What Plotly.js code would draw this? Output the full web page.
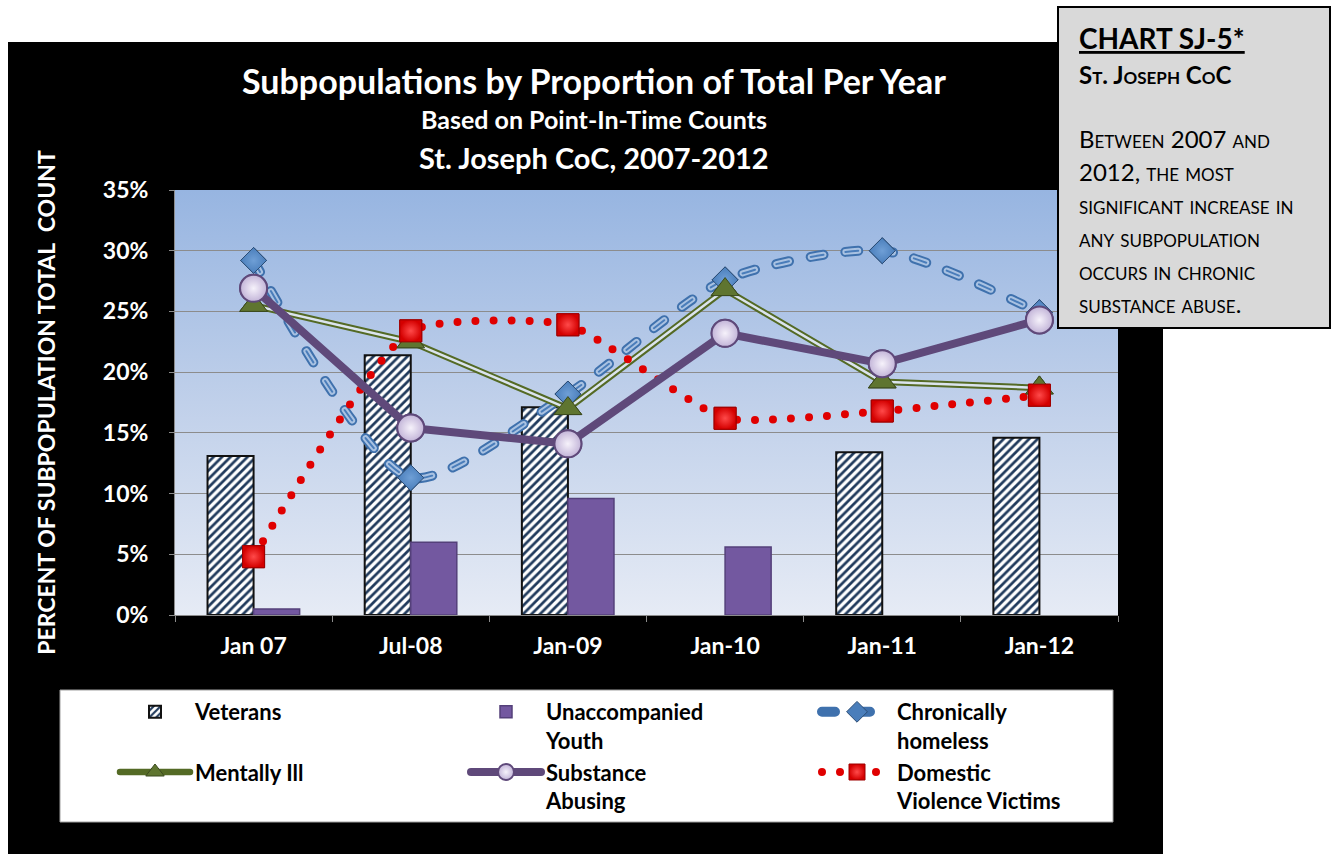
<!DOCTYPE html>
<html>
<head>
<meta charset="utf-8">
<script src="https://cdn.plot.ly/plotly-3.0.1.min.js"></script>
<style>
html,body{margin:0;padding:0;background:#fff;}
#wrap{position:relative;width:1336px;height:854px;overflow:hidden;}
#bgblack{position:absolute;left:8px;top:42px;width:1155px;height:812px;background:#000;}
#chart{position:absolute;left:0;top:0;width:1336px;height:854px;}
.js-line{stroke-linecap:round;stroke-linejoin:round;}
</style>
</head>
<body>
<div id="wrap"><div id="bgblack"></div><div id="chart"></div></div>
<script>
// ---- data ----
const categories = ['Jan 07', 'Jul-08', 'Jan-09', 'Jan-10', 'Jan-11', 'Jan-12'];
const veterans   = [13.1, 21.4, 17.1, null, 13.4, 14.6];
const youth      = [0.5, 6.0, 9.6, 5.6, null, null];
const chronic    = [29.2, 11.3, 18.2, 27.6, 30.0, 24.9];
const mental     = [25.5, 22.5, 17.0, 26.8, 19.2, 18.7];
const substance  = [26.9, 15.4, 14.1, 23.2, 20.7, 24.3];
const domestic   = [4.8, 23.4, 23.9, 16.2, 16.8, 18.1];
const seriesNames = ['Veterans', 'Unaccompanied<br>Youth', 'Chronically<br>homeless',
                     'Mentally Ill', 'Substance<br>Abusing', 'Domestic<br>Violence Victims'];
const titleText = 'Subpopulations by Proportion of Total Per Year';
const subtitle1 = 'Based on Point-In-Time Counts';
const subtitle2 = 'St. Joseph CoC, 2007-2012';
const yAxisTitle = 'PERCENT OF SUBPOPULATION TOTAL  COUNT';
const boxHeading = 'CHART SJ-5*';
const boxSub = 'St. Joseph CoC';
const boxLines = ['Between 2007 and', '2012, the most', 'significant increase in',
                  'any subpopulation', 'occurs in chronic', 'substance abuse.'];

// ---- geometry helpers (plot area in px) ----
const L = 175, R = 1118, T = 190, B = 615;
const px = v => (v - L) / (R - L);
const py = v => (B - v) / (B - T);

const FONT = 'Lato, "Open Sans", sans-serif';

const traces = [];
traces.push({
  type: 'bar', x: categories, y: veterans, name: seriesNames[0], legendrank: 1,
  marker: {color: '#ffffff', line: {color: '#111111', width: 2},
           pattern: {shape: '/', fgcolor: '#203a5c', bgcolor: '#ffffff', size: 6, solidity: 0.45}},
  hoverinfo: 'skip'
});
traces.push({
  type: 'bar', x: categories, y: youth, name: seriesNames[1], legendrank: 2,
  marker: {color: '#7358a0', line: {color: '#54407a', width: 1.5}},
  hoverinfo: 'skip'
});

const blueDash = '13px,22px';
traces.push({
  type: 'scatter', mode: 'lines+markers', x: categories, y: chronic, name: seriesNames[2], legendrank: 3,
  line: {color: '#3f71ad', width: 10, dash: blueDash, shape: 'spline', smoothing: 0.7},
  marker: {symbol: 'diamond', size: 20, color: '#4a7ebb', line: {color: '#2c4d75', width: 1}},
  hoverinfo: 'skip'
});
traces.push({
  type: 'scatter', mode: 'lines', x: categories, y: chronic, showlegend: false,
  line: {color: '#a9c2e2', width: 6, dash: blueDash, shape: 'spline', smoothing: 0.7}, hoverinfo: 'skip'
});
traces.push({
  type: 'scatter', mode: 'lines', x: categories, y: chronic, showlegend: false,
  line: {color: '#4a7dba', width: 2, dash: blueDash, shape: 'spline', smoothing: 0.7}, hoverinfo: 'skip'
});

traces.push({
  type: 'scatter', mode: 'lines+markers', x: categories, y: mental, name: seriesNames[3], legendrank: 4,
  line: {color: '#546a25', width: 6.5},
  marker: {symbol: 'triangle-up', size: 24, color: '#5f7530', line: {color: '#3b4a1e', width: 1}},
  hoverinfo: 'skip'
});
traces.push({
  type: 'scatter', mode: 'lines', x: categories, y: mental, showlegend: false,
  line: {color: '#dbe4ee', width: 2.5}, hoverinfo: 'skip'
});

traces.push({
  type: 'scatter', mode: 'lines+markers', x: categories, y: domestic, name: seriesNames[5], legendrank: 6,
  line: {color: '#e00000', width: 8, dash: '0px,18px', shape: 'spline', smoothing: 0.5},
  marker: {symbol: 'square', size: 22, color: '#d40000', line: {color: '#9e0000', width: 1},
           gradient: {type: 'radial', color: '#ff4a4a'}},
  hoverinfo: 'skip'
});

traces.push({
  type: 'scatter', mode: 'lines+markers', x: categories, y: substance, name: seriesNames[4], legendrank: 5,
  line: {color: '#5f497a', width: 8},
  marker: {symbol: 'circle', size: 27, color: '#c2b4d8', line: {color: '#5f497a', width: 2},
           gradient: {type: 'radial', color: '#f6f2fb'}},
  hoverinfo: 'skip'
});

traces.push({
  type: 'scatter', mode: 'markers', x: categories, y: chronic, showlegend: false, hoverinfo: 'skip',
  marker: {symbol: 'diamond', size: 20, color: '#4a7ebb', line: {color: '#2c4d75', width: 1},
           gradient: {type: 'radial', color: '#6f9fd6'}}
});
traces.push({
  type: 'scatter', mode: 'markers', x: categories, y: mental, showlegend: false, hoverinfo: 'skip',
  marker: {symbol: 'triangle-up', size: 24, color: '#5f7530', line: {color: '#3b4a1e', width: 1}}
});
traces.push({
  type: 'scatter', mode: 'markers', x: categories, y: domestic, showlegend: false, hoverinfo: 'skip',
  marker: {symbol: 'square', size: 22, color: '#d40000', line: {color: '#9e0000', width: 1},
           gradient: {type: 'radial', color: '#ff4a4a'}}
});
traces.push({
  type: 'scatter', mode: 'markers', x: categories, y: substance, showlegend: false, hoverinfo: 'skip',
  marker: {symbol: 'circle', size: 27, color: '#c2b4d8', line: {color: '#5f497a', width: 2},
           gradient: {type: 'radial', color: '#f6f2fb'}}
});

const gradSvg = "<svg xmlns='http://www.w3.org/2000/svg' width='10' height='100' viewBox='0 0 10 100' preserveAspectRatio='none'>" +
  "<defs><linearGradient id='g' x1='0' y1='0' x2='0' y2='1'>" +
  "<stop offset='0' stop-color='#97b5e1'/><stop offset='0.5' stop-color='#c0d0ea'/><stop offset='1' stop-color='#e6ebf5'/>" +
  "</linearGradient></defs><rect width='10' height='100' fill='url(#g)'/></svg>";

const annotations = [
  {text: '<b>' + titleText + '</b>', x: px(594), y: py(80), font: {size: 34, color: '#ffffff', family: FONT}},
  {text: '<b>' + subtitle1 + '</b>', x: px(594), y: py(119), font: {size: 25, color: '#ffffff', family: FONT}},
  {text: '<b>' + subtitle2 + '</b>', x: px(594), y: py(157), font: {size: 29, color: '#ffffff', family: FONT}},
  {text: '<b><u>' + boxHeading + '</u></b>', x: px(1077), y: py(38), xanchor: 'left', font: {size: 28, color: '#000000', family: FONT}},
  {text: '<b>' + boxSub + '</b>', x: px(1077), y: py(74), xanchor: 'left', font: {size: 24, color: '#000000', family: FONT, variant: 'small-caps'}}
].map(a => Object.assign({xref: 'paper', yref: 'paper', showarrow: false, xanchor: 'center', yanchor: 'middle'}, a));

const lineYs = [138, 171, 204, 237, 270, 303];
boxLines.forEach((t, i) => annotations.push({
  xref: 'paper', yref: 'paper', showarrow: false, xanchor: 'left', yanchor: 'middle',
  x: px(1077), y: py(lineYs[i]), text: t,
  font: {size: 24, color: '#000000', family: FONT, variant: 'small-caps'}
}));

const layout = {
  width: 1336, height: 854, autosize: false,
  margin: {l: L, r: 1336 - R, t: T, b: 854 - B, pad: 0},
  paper_bgcolor: 'rgba(0,0,0,0)', plot_bgcolor: 'rgba(0,0,0,0)',
  barmode: 'group', bargap: 0.414, bargroupgap: 0,
  showlegend: true,
  font: {family: FONT, color: '#ffffff'},
  xaxis: {
    type: 'category', categoryorder: 'array', categoryarray: categories,
    showgrid: false, showline: true, linecolor: '#8c8c8c', linewidth: 1,
    ticks: 'outside', tickson: 'boundaries', ticklen: 6, tickcolor: '#8c8c8c',
    tickfont: {size: 23, color: '#ffffff', family: FONT, weight: 'bold'},
    ticklabelstandoff: 10, fixedrange: true
  },
  yaxis: {
    range: [0, 35], tickmode: 'linear', tick0: 0, dtick: 5, ticksuffix: '%',
    showgrid: true, gridcolor: '#8c8c8c', gridwidth: 1, zeroline: false,
    showline: true, linecolor: '#8c8c8c', ticks: 'outside', ticklen: 5, tickcolor: '#8c8c8c',
    tickfont: {size: 23, color: '#ffffff', family: FONT, weight: 'bold'},
    ticklabelstandoff: 16,
    title: {text: '<b>' + yAxisTitle + '</b>', font: {size: 23, color: '#ffffff', family: FONT}, standoff: 40},
    fixedrange: true
  },
  legend: {
    orientation: 'h', x: px(115), y: py(691), xanchor: 'left', yanchor: 'top',
    bgcolor: 'rgba(0,0,0,0)', borderwidth: 0,
    entrywidth: 266, entrywidthmode: 'pixels', itemwidth: 70, valign: 'top',
    traceorder: 'normal', tracegroupgap: 0,
    font: {size: 22, color: '#000000', family: FONT, weight: 'bold'},
    itemclick: false, itemdoubleclick: false
  },
  images: [{
    source: 'data:image/svg+xml;charset=utf-8,' + encodeURIComponent(gradSvg),
    xref: 'paper', yref: 'paper', x: 0, y: 1, sizex: 1, sizey: 1,
    xanchor: 'left', yanchor: 'top', sizing: 'stretch', layer: 'below'
  }],
  shapes: [
    {type: 'rect', xref: 'paper', yref: 'paper', x0: px(60), x1: px(1113), y0: py(822), y1: py(690),
     fillcolor: '#ffffff', line: {color: '#a0a0a0', width: 1}, layer: 'below'},
    {type: 'rect', xref: 'paper', yref: 'paper', x0: px(1058), x1: px(1330), y0: py(328), y1: py(7),
     fillcolor: '#d9d9d9', line: {color: '#000000', width: 2}, layer: 'above'}
  ],
  annotations: annotations
};

Plotly.newPlot('chart', traces, layout, {displayModeBar: false, staticPlot: true});
</script>
</body>
</html>
